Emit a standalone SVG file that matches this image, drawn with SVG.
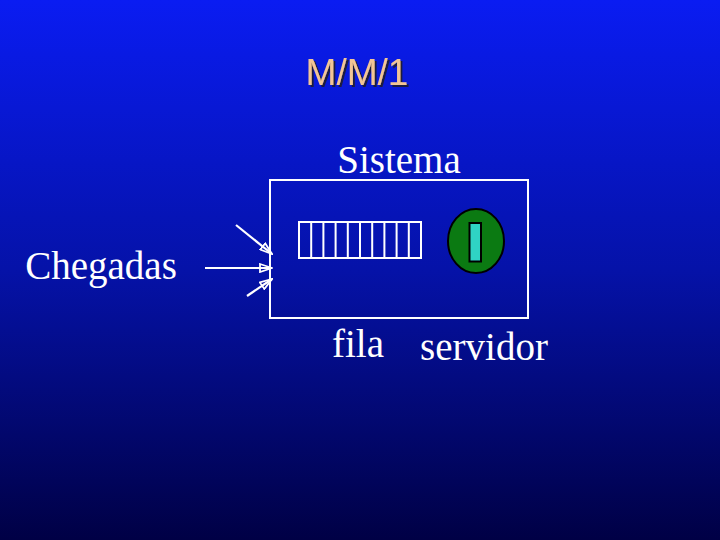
<svg xmlns="http://www.w3.org/2000/svg" width="720" height="540" viewBox="0 0 720 540">
<defs>
<linearGradient id="bg" x1="0" y1="0" x2="0" y2="1">
<stop offset="0" stop-color="#0a1cf2"/>
<stop offset="0.5" stop-color="#0512a8"/>
<stop offset="1" stop-color="#000045"/>
</linearGradient>
<filter id="sh" x="-10%" y="-20%" width="120%" height="150%">
<feDropShadow dx="2" dy="2" stdDeviation="0.6" flood-color="#1a1a40" flood-opacity="1"/>
</filter>
<marker id="ah" viewBox="0 0 14 10" refX="13" refY="5" markerWidth="14" markerHeight="10" markerUnits="userSpaceOnUse" orient="auto">
<path d="M1,1 L13,5 L1,9 Z" fill="none" stroke="#fff" stroke-width="1.8"/>
</marker>
<style>
.t{font-family:"Liberation Serif","Times New Roman",serif;font-size:39px;fill:#fff}
.w{fill:none;stroke:#fff;stroke-width:2}
.c{stroke:#fff;stroke-width:2.2;fill:none}
</style>
</defs>
<rect width="720" height="540" fill="url(#bg)"/>
<g id="title">
<text x="357" y="85" text-anchor="middle" font-family="'Liberation Sans',Arial,sans-serif" font-size="37" fill="#f2c596" filter="url(#sh)">M/M/1</text>
</g>
<g id="sistema">
<rect x="270" y="180" width="258" height="138" class="w"/>
<text x="399" y="173" text-anchor="middle" class="t">Sistema</text>
</g>
<g id="fila">
<rect x="299" y="222" width="122" height="36" class="w"/>
<path d="M311.2,222V258M323.4,222V258M335.6,222V258M347.8,222V258M360,222V258M372.2,222V258M384.4,222V258M396.6,222V258M408.8,222V258" class="w"/>
<text x="358" y="357" text-anchor="middle" class="t">fila</text>
</g>
<g id="servidor">
<ellipse cx="476" cy="241" rx="28" ry="32" fill="#0b7a12" stroke="#000" stroke-width="2"/>
<rect x="469.5" y="223" width="11.5" height="38.5" fill="#2fd3c4" stroke="#000" stroke-width="2"/>
<text x="484" y="360" text-anchor="middle" class="t">servidor</text>
</g>
<g id="chegadas">
<text x="101" y="279" text-anchor="middle" class="t">Chegadas</text>
</g>
<g id="connectors">
<line x1="236" y1="225" x2="272" y2="254" class="c" marker-end="url(#ah)"/>
<line x1="205" y1="268" x2="272" y2="268" class="c" marker-end="url(#ah)"/>
<line x1="247" y1="296" x2="272" y2="279" class="c" marker-end="url(#ah)"/>
</g>
</svg>
